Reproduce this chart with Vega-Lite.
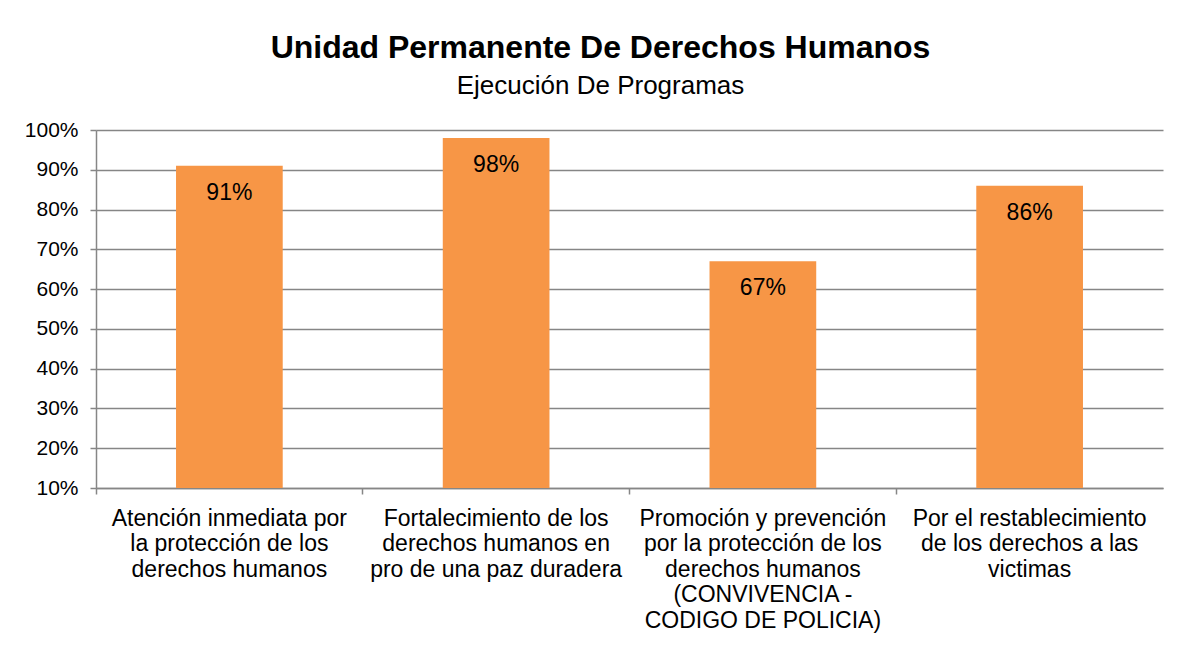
{
  "$schema": "https://vega.github.io/schema/vega-lite/v6.json",
  "autosize": "none",
  "width": 1067,
  "height": 358,
  "padding": {"left": 96, "top": 130, "right": 18, "bottom": 161},
  "background": "white",
  "title": {
    "text": "Unidad Permanente De Derechos Humanos",
    "subtitle": "Ejecución De Programas",
    "font": "Liberation Sans",
    "fontSize": 32,
    "fontWeight": "bold",
    "color": "black",
    "subtitleFont": "Liberation Sans",
    "subtitleFontSize": 26,
    "subtitleColor": "black",
    "subtitlePadding": 8,
    "anchor": "middle",
    "dx": -29,
    "offset": 19
  },
  "config": {
    "view": {"stroke": null},
    "font": "Liberation Sans"
  },
  "data": {
    "values": [
      {"cat": "Atención inmediata por|la protección de los|derechos humanos", "value": 0.91},
      {"cat": "Fortalecimiento de los|derechos humanos en|pro de una paz duradera", "value": 0.98},
      {"cat": "Promoción y prevención|por la protección de los|derechos humanos|(CONVIVENCIA -|CODIGO DE POLICIA)", "value": 0.67},
      {"cat": "Por el restablecimiento|de los derechos a las|victimas", "value": 0.86}
    ]
  },
  "encoding": {
    "x": {
      "field": "cat",
      "type": "nominal",
      "sort": null,
      "scale": {"paddingInner": 0.6, "paddingOuter": 0.3},
      "axis": {
        "title": null,
        "labelAngle": 0,
        "labelExpr": "split(datum.label, '|')",
        "labelFont": "Liberation Sans",
        "labelFontSize": 23,
        "labelColor": "black",
        "labelLineHeight": 25.5,
        "labelPadding": 13,
        "labelLimit": 300,
        "bandPosition": -0.75,
        "tickColor": "#868686",
        "tickSize": 6,
        "tickWidth": 1.5,
        "domainColor": "#868686",
        "domainWidth": 1.5
      }
    },
    "y": {
      "field": "value",
      "type": "quantitative",
      "scale": {"domain": [0.1, 1], "zero": false, "nice": false},
      "axis": {
        "title": null,
        "format": ".0%",
        "values": [0.1, 0.2, 0.3, 0.4, 0.5, 0.6, 0.7, 0.8, 0.9, 1.0],
        "labelFont": "Liberation Sans",
        "labelFontSize": 21,
        "labelColor": "black",
        "labelPadding": 12,
        "tickColor": "#868686",
        "tickSize": 6,
        "tickWidth": 1.5,
        "domainColor": "#868686",
        "domainWidth": 1.5,
        "gridColor": "#868686",
        "gridWidth": 1.5
      }
    }
  },
  "layer": [
    {"mark": {"type": "bar", "color": "#F79646", "clip": true}},
    {
      "mark": {"type": "text", "baseline": "middle", "dy": 27, "fontSize": 23, "font": "Liberation Sans", "color": "black"},
      "encoding": {"text": {"field": "value", "type": "quantitative", "format": ".0%"}}
    }
  ]
}
